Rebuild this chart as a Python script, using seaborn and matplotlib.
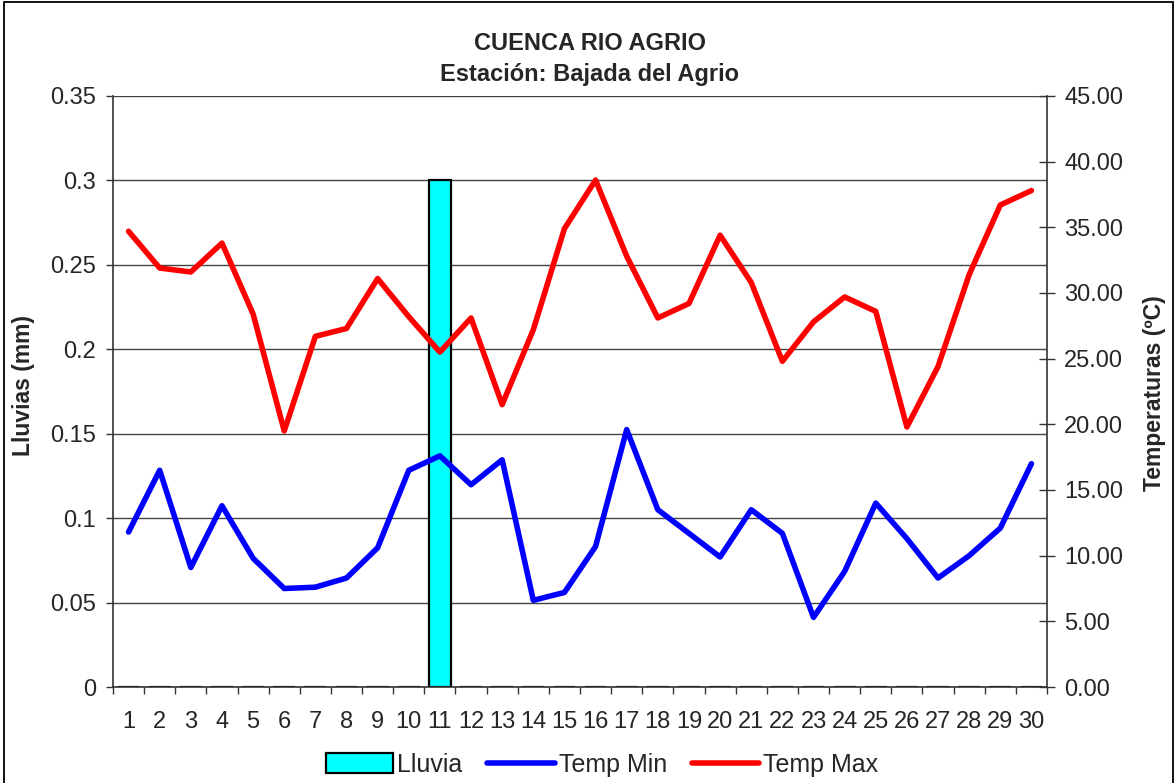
import numpy as np
import pandas as pd
import seaborn as sns
import matplotlib.pyplot as plt
from matplotlib.patches import Rectangle


# Datos (dias del mes)
dias = list(range(1, 31))
lluvia = [0, 0, 0, 0, 0, 0, 0, 0, 0, 0,
          0.3, 0, 0, 0, 0, 0, 0, 0, 0, 0,
          0, 0, 0, 0, 0, 0, 0, 0, 0, 0]
temp_min = [11.8, 16.5, 9.1, 13.8, 9.8, 7.5, 7.6, 8.3, 10.6, 16.5,
            17.6, 15.4, 17.3, 6.6, 7.2, 10.7, 19.6, 13.5, 11.7, 9.9,
            13.5, 11.7, 5.3, 8.8, 14.0, 11.3, 8.3, 10.0, 12.1, 17.0]
temp_max = [34.7, 31.9, 31.6, 33.8, 28.4, 19.5, 26.7, 27.3, 31.1, 28.2,
            25.5, 28.1, 21.5, 27.2, 34.9, 38.6, 32.8, 28.1, 29.2, 34.4,
            30.8, 24.8, 27.8, 29.7, 28.6, 19.8, 24.4, 31.4, 36.7, 37.8]

etiquetas_izq = ['0', '0.05', '0.1', '0.15', '0.2', '0.25', '0.3', '0.35']

df = pd.DataFrame({'Dia': dias, 'Lluvia': lluvia,
                   'Temp Min': temp_min, 'Temp Max': temp_max})

sns.set_style('white')
plt.rcParams['font.family'] = ['Liberation Sans', 'DejaVu Sans']

fig = plt.figure(figsize=(11.76, 7.83), dpi=100)
ax = fig.add_axes([113 / 1176, 1 - 687 / 783, 934 / 1176, 591 / 783])

# Barras de lluvia (eje izquierdo)
sns.barplot(data=df, x='Dia', y='Lluvia', native_scale=True, width=0.7,
            color='#00FFFF', saturation=1, edgecolor='black', linewidth=1.6,
            ax=ax, label='Lluvia')

# Temperaturas (eje derecho)
ax2 = ax.twinx()
sns.lineplot(data=df, x='Dia', y='Temp Min', color='#0000FF', lw=4,
             solid_capstyle='round', solid_joinstyle='round',
             ax=ax2, label='Temp Min')
sns.lineplot(data=df, x='Dia', y='Temp Max', color='#FF0000', lw=4,
             solid_capstyle='round', solid_joinstyle='round',
             ax=ax2, label='Temp Max')

h1, l1 = ax.get_legend_handles_labels()
h2, l2 = ax2.get_legend_handles_labels()
if ax.get_legend() is not None:
    ax.get_legend().remove()
if ax2.get_legend() is not None:
    ax2.get_legend().remove()

ax.set_xlim(0.5, 30.5)
ax.set_ylim(0, 0.35)
ax2.set_ylim(0, 45)
ax.set_xlabel('')
ax.set_ylabel('')
ax2.set_xlabel('')
ax2.set_ylabel('')

# Eje x tipo categorias
ax.set_xticks(dias)
ax.set_xticklabels([str(d) for d in dias])
ax.set_xticks(np.arange(0.5, 31, 1), minor=True)
ax.tick_params(axis='x', which='major', length=0, pad=17, labelsize=17)
ax.tick_params(axis='x', which='minor', bottom=True, length=5, width=1,
               color='#333333', direction='out')

ax.set_yticks(np.arange(0, 0.351, 0.05))
ax.set_yticklabels(etiquetas_izq)
ax.tick_params(axis='y', left=True, length=5, width=1, color='#333333',
               pad=7, labelsize=17)

ax2.set_yticks(np.arange(0, 46, 5))
ax2.set_yticklabels(['%.2f' % v for v in np.arange(0, 46, 5)])
ax2.tick_params(axis='y', right=True, direction='inout', length=12, width=1,
                color='#333333', pad=6.5, labelsize=17)

# Grilla
ax.yaxis.grid(True, color='#444444', lw=1)
ax.set_axisbelow(True)

for s in ['top', 'right']:
    ax.spines[s].set_visible(False)
for s in ['top', 'left', 'bottom']:
    ax2.spines[s].set_visible(False)
ax.spines['left'].set_color('#333333')
ax.spines['bottom'].set_color('#333333')
ax2.spines['right'].set_color('#333333')
for s in ['left', 'bottom']:
    ax.spines[s].set_linewidth(1.2)
ax2.spines['right'].set_linewidth(1.2)

# Titulos
fig.text(590 / 1176, 1 - 44 / 783, 'CUENCA RIO AGRIO', ha='center',
         va='center', fontsize=17, fontweight='bold')
fig.text(590 / 1176, 1 - 74 / 783, 'Estación: Bajada del Agrio', ha='center',
         va='center', fontsize=17, fontweight='bold')
fig.text(24 / 1176, 1 - 385 / 783, 'Lluvias (mm)', rotation=90, ha='center',
         va='center', fontsize=16.5, fontweight='bold')
fig.text(1155 / 1176, 1 - 393 / 783, 'Temperaturas (ºC)', rotation=90,
         ha='center', va='center', fontsize=16.5, fontweight='bold')

fig.legend(h1 + h2, l1 + l2, loc='center', bbox_to_anchor=(602 / 1176, 1 - 765 / 783),
           ncol=3, frameon=False, fontsize=18, handlelength=2.7,
           handletextpad=0.15, columnspacing=1.0, handleheight=0.85)

# Marco del grafico
fig.patches.append(Rectangle((4 / 1176, -0.02), 1169 / 1176, 1.018,
                             transform=fig.transFigure, fill=False,
                             edgecolor='black', lw=1.3))

fig.savefig('out.png', dpi=100)
